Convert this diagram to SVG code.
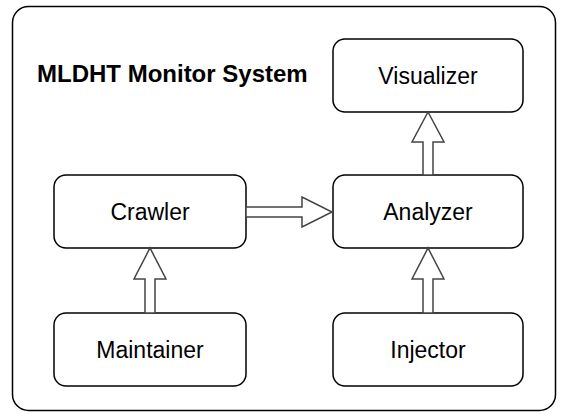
<svg xmlns="http://www.w3.org/2000/svg" width="567" height="415" viewBox="0 0 567 415">
<style>
.frame{fill:#fff;stroke:#000;stroke-width:1.5}
.box{fill:#fff;stroke:#000;stroke-width:1.5}
.lbl{font-family:"Liberation Sans",Arial,sans-serif;font-size:23px;fill:#000;text-anchor:middle}
.title{font-family:"Liberation Sans",Arial,sans-serif;font-size:24px;font-weight:bold;fill:#000}
.arr{fill:#fff;stroke:#444;stroke-width:1.5;stroke-linejoin:miter}
</style>
<rect width="567" height="415" fill="#fff"/>
<g id="system">
<rect class="frame" x="12.5" y="6.5" width="543" height="404" rx="16"/>
<text class="title" x="37" y="82">MLDHT Monitor System</text>
</g>
<g id="visualizer">
<rect class="box" x="333" y="39" width="190" height="73" rx="12"/>
<text class="lbl" x="428" y="83.5">Visualizer</text>
</g>
<g id="crawler">
<rect class="box" x="54" y="175" width="192" height="73" rx="12"/>
<text class="lbl" x="150" y="219.5">Crawler</text>
</g>
<g id="analyzer">
<rect class="box" x="333" y="175" width="190" height="73" rx="12"/>
<text class="lbl" x="428" y="219.5">Analyzer</text>
</g>
<g id="maintainer">
<rect class="box" x="54" y="313" width="192" height="73" rx="12"/>
<text class="lbl" x="150" y="357.5">Maintainer</text>
</g>
<g id="injector">
<rect class="box" x="333" y="313" width="190" height="73" rx="12"/>
<text class="lbl" x="428" y="357.5">Injector</text>
</g>
<g id="connectors">
<polygon class="arr" points="246,207 302,207 302,197 332,212 302,227 302,217 246,217"/>
<polygon class="arr" points="145,313 145,279 134,279 150,248 166,279 155,279 155,313"/>
<polygon class="arr" points="423,313 423,279 412,279 428,248 444,279 433,279 433,313"/>
<polygon class="arr" points="423,175 423,142 412,142 428,112 444,142 433,142 433,175"/>
</g>
</svg>
